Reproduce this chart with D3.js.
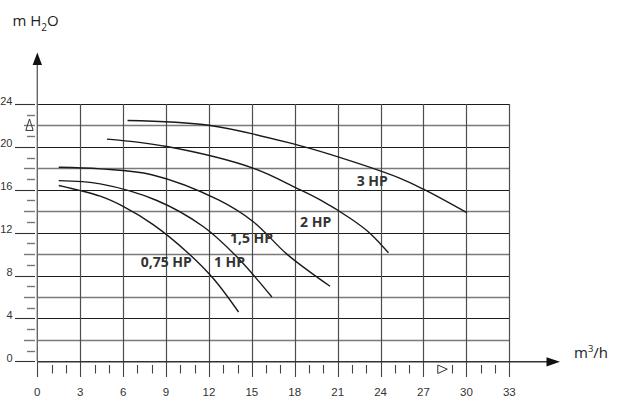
<!DOCTYPE html>
<html>
<head>
<meta charset="utf-8">
<script src="https://cdn.jsdelivr.net/npm/d3@7"></script>
<style>
  html, body { margin: 0; padding: 0; background: #fff; }
  svg { display: block; }
</style>
</head>
<body>
<svg id="chart" width="618" height="398"></svg>
<script>
// ---------- data ----------
const xTickLabels = [0, 3, 6, 9, 12, 15, 18, 21, 24, 27, 30, 33];
const yTickLabels = [0, 4, 8, 12, 16, 20, 24];
const seriesNames = ["0,75 HP", "1 HP", "1,5 HP", "2 HP", "3 HP"];

const flow075 = [1.5, 4.4, 6.0, 8.1, 10.46, 12.32, 14.07];
const head075 = [16.4, 15.4, 14.45, 12.75, 10.2, 7.7, 4.6];

const flow1 = [1.5, 4.4, 8.36, 11.62, 13.95, 16.4];
const head1 = [16.85, 16.55, 15.0, 12.55, 9.75, 6.0];

const flow15 = [1.5, 4.4, 8.0, 12.67, 15.12, 17.45, 20.47];
const head15 = [18.1, 17.95, 17.4, 15.05, 13.0, 10.0, 7.0];

const flow2 = [4.87, 9.06, 15.12, 18.15, 19.78, 21.87, 23.27, 24.55];
const head2 = [20.72, 20.03, 18.0, 16.14, 15.05, 13.34, 11.93, 10.12];

const flow3 = [6.31, 12.09, 18.15, 20.47, 25.37, 27.0, 30.03];
const head3 = [22.46, 22.0, 20.19, 19.3, 17.07, 16.05, 13.86];

// label anchors in data units (flow, head)
const labelFlow = [7.23, 12.35, 13.47, 18.37, 22.33];
const labelHead = [8.82, 8.82, 11.0, 12.56, 16.35];

// ---------- layout ----------
const svg = d3.select("#chart");
const x = d3.scaleLinear().domain([0, 33]).range([37.3, 509.3]);
const y = d3.scaleLinear().domain([0, 24]).range([361.3, 104]);

const series = [
  {name: seriesNames[0], q: flow075, h: head075},
  {name: seriesNames[1], q: flow1, h: head1},
  {name: seriesNames[2], q: flow15, h: head15},
  {name: seriesNames[3], q: flow2, h: head2},
  {name: seriesNames[4], q: flow3, h: head3}
];

const font = "'Open Sans', 'Liberation Sans', Arial, sans-serif";
const tickFont = "'Liberation Sans', Arial, sans-serif";

// horizontal grid lines every 2 m
const hLines = d3.range(2, 25, 2);
svg.append("g").selectAll("line").data(hLines).join("line")
  .attr("x1", x(0)).attr("x2", x(33))
  .attr("y1", d => Math.round(y(d)) + 0.5).attr("y2", d => Math.round(y(d)) + 0.5)
  .attr("stroke", d => d % 4 === 0 ? "#1a1a1a" : "#7a7a7a")
  .attr("stroke-width", d => d % 4 === 0 ? 1 : 1.4);

// vertical grid lines every 3 m3/h
const vLines = d3.range(3, 34, 3);
svg.append("g").selectAll("line").data(vLines).join("line")
  .attr("x1", d => Math.round(x(d)) + 0.5).attr("x2", d => Math.round(x(d)) + 0.5)
  .attr("y1", y(24)).attr("y2", y(0))
  .attr("stroke", "#4d4d4d").attr("stroke-width", 1.2);

// left ticks
const yMinor = d3.range(0, 25, 1);
svg.append("g").selectAll("line").data(yMinor).join("line")
  .attr("x1", d => d % 4 === 0 ? 15 : (d % 2 === 0 ? 24 : 27))
  .attr("x2", 35)
  .attr("y1", d => Math.round(y(d)) + 0.5).attr("y2", d => Math.round(y(d)) + 0.5)
  .attr("stroke", d => d % 4 === 0 ? "#333" : "#777")
  .attr("stroke-width", d => d % 4 === 0 ? 1.1 : 1.4);

// triangle marker at 22 m
svg.append("path")
  .attr("d", `M29.5,${y(22) - 6.5} L25.8,${y(22) + 5} L33.2,${y(22) + 5} Z`)
  .attr("fill", "none").attr("stroke", "#333").attr("stroke-width", 1);

// y tick labels
svg.append("g").selectAll("text").data(yTickLabels).join("text")
  .attr("x", 12.5).attr("y", d => y(d) + 0.5)
  .attr("text-anchor", "end")
  .attr("font-family", tickFont).attr("font-size", 11)
  .attr("fill", "#333")
  .text(d => d);

// bottom ticks
const xMinor = d3.range(0, 34, 1).filter(d => d !== 28);
svg.append("g").selectAll("line").data(xMinor).join("line")
  .attr("x1", d => Math.round(x(d)) + 0.5).attr("x2", d => Math.round(x(d)) + 0.5)
  .attr("y1", d => d % 3 === 0 ? 362 : 365)
  .attr("y2", d => d % 3 === 0 ? 377 : 373.5)
  .attr("stroke", "#444").attr("stroke-width", 1.1);

// triangle marker at 28 m3/h
svg.append("path")
  .attr("d", `M${x(28)},365 L${x(28) + 9.5},369.2 L${x(28)},373.5 Z`)
  .attr("fill", "none").attr("stroke", "#333").attr("stroke-width", 1);

// x tick labels
svg.append("g").selectAll("text").data(xTickLabels).join("text")
  .attr("x", d => x(d)).attr("y", 396)
  .attr("text-anchor", "middle")
  .attr("font-family", tickFont).attr("font-size", 11.5)
  .attr("fill", "#333")
  .text(d => d);

// axes lines + arrows
svg.append("line").attr("x1", 37.3).attr("x2", 37.3).attr("y1", y(0)).attr("y2", 62)
  .attr("stroke", "#666").attr("stroke-width", 1.4);
svg.append("path").attr("d", "M37.3,52.5 L42,65 L32.6,65 Z").attr("fill", "#111");

svg.append("line").attr("x1", 37.3).attr("x2", 550).attr("y1", 361.8).attr("y2", 361.8)
  .attr("stroke", "#333").attr("stroke-width", 1.4);
svg.append("path").attr("d", "M560,361.8 L546.5,357.2 L546.5,366.4 Z").attr("fill", "#111");

// axis titles
const yt = svg.append("text").attr("x", 12.5).attr("y", 26)
  .attr("font-family", font).attr("font-size", 15).attr("fill", "#222");
yt.append("tspan").text("m H");
yt.append("tspan").attr("font-size", 10).attr("dy", 4.5).text("2");
yt.append("tspan").attr("dy", -4.5).text("O");

const xt = svg.append("text").attr("x", 574).attr("y", 357.5)
  .attr("font-family", font).attr("font-size", 15).attr("fill", "#222");
xt.append("tspan").text("m");
xt.append("tspan").attr("font-size", 9.5).attr("dy", -6).text("3");
xt.append("tspan").attr("dy", 6).text("/h");

// curves
const line = d3.line()
  .x(d => x(d[0])).y(d => y(d[1]))
  .curve(d3.curveCatmullRom.alpha(0.5));

svg.append("g").selectAll("path").data(series).join("path")
  .attr("d", s => line(s.q.map((q, i) => [q, s.h[i]])))
  .attr("fill", "none").attr("stroke", "#1a1a1a").attr("stroke-width", 1.4);

// curve labels
svg.append("g").selectAll("text").data(seriesNames).join("text")
  .attr("x", (d, i) => x(labelFlow[i])).attr("y", (d, i) => y(labelHead[i]))
  .attr("font-family", font).attr("font-weight", "bold").attr("font-size", 14)
  .attr("fill", "#333")
  .text(d => d);
</script>
</body>
</html>
